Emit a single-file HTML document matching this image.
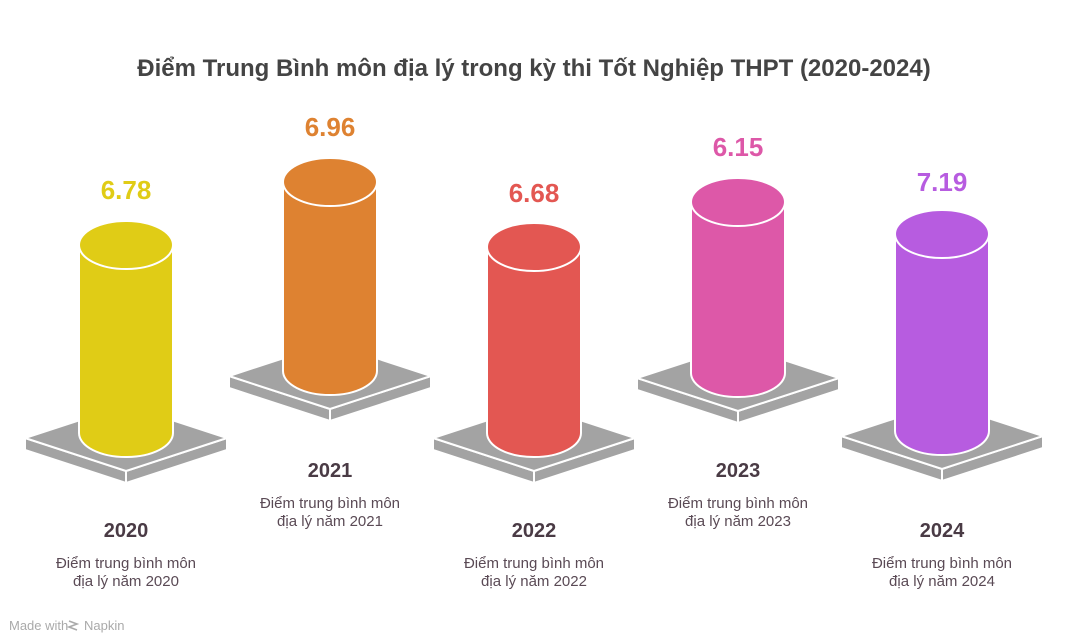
<!DOCTYPE html>
<html><head><meta charset="utf-8"><style>
html,body{margin:0;padding:0;background:#fff;}
body{width:1068px;height:638px;overflow:hidden;font-family:"Liberation Sans","DejaVu Sans",sans-serif;}
</style></head><body>
<svg width="1068" height="638" viewBox="0 0 1068 638" xmlns="http://www.w3.org/2000/svg" font-family="Liberation Sans, DejaVu Sans, sans-serif">
<text x="534" y="76" text-anchor="middle" font-size="24" font-weight="bold" fill="#444">Điểm Trung Bình môn địa lý trong kỳ thi Tốt Nghiệp THPT (2020-2024)</text>
<g id="bars"></g>
<g font-size="13" fill="#aaa"><text x="9" y="630">Made with</text><text x="84" y="630">Napkin</text>
<path d="M69 621 l8 3 -8 3 8 3" stroke="#aaa" stroke-width="1.6" fill="none"/></g>
</svg>
<script>
var d=[[126,245,433,"#E0CC16","6.78","2020",190,530],[330,182,371,"#DE8231","6.96","2021",127,470],[534,247,433,"#E35752","6.68","2022",193,530],[738,202,373,"#DD58A8","6.15","2023",147,470],[942,234,431,"#B75CE0","7.19","2024",182,530]];
var s="";
d.forEach(function(b){
var cx=b[0],ty=b[1],by=b[2],c=b[3],py=by+5,hw=101,hh=33,t=12;
s+='<path d="M'+(cx-hw)+' '+py+' L'+cx+' '+(py+hh)+' L'+cx+' '+(py+hh+t)+' L'+(cx-hw)+' '+(py+t)+'Z" fill="#a3a3a3" stroke="#fff" stroke-width="2"/>';
s+='<path d="M'+(cx+hw)+' '+py+' L'+cx+' '+(py+hh)+' L'+cx+' '+(py+hh+t)+' L'+(cx+hw)+' '+(py+t)+'Z" fill="#a3a3a3" stroke="#fff" stroke-width="2"/>';
s+='<path d="M'+cx+' '+(py-hh)+' L'+(cx+hw)+' '+py+' L'+cx+' '+(py+hh)+' L'+(cx-hw)+' '+py+'Z" fill="#a3a3a3" stroke="#fff" stroke-width="2"/>';
var rx=47,ry=24;
s+='<path d="M'+(cx-rx)+' '+ty+' L'+(cx-rx)+' '+by+' A'+rx+' '+ry+' 0 0 0 '+(cx+rx)+' '+by+' L'+(cx+rx)+' '+ty+'Z" fill="'+c+'" stroke="#fff" stroke-width="2"/>';
s+='<ellipse cx="'+cx+'" cy="'+ty+'" rx="'+rx+'" ry="'+ry+'" fill="'+c+'" stroke="#fff" stroke-width="2"/>';
s+='<text x="'+cx+'" y="'+(b[6]+9)+'" text-anchor="middle" font-size="26" font-weight="bold" fill="'+c+'">'+b[4]+'</text>';
s+='<text x="'+cx+'" y="'+(b[7]+7)+'" text-anchor="middle" font-size="20" font-weight="bold" fill="#4a3b45">'+b[5]+'</text>';
s+='<text x="'+cx+'" y="'+(b[7]+38)+'" text-anchor="middle" font-size="15" fill="#5a4a55">Điểm trung bình môn</text>';
s+='<text x="'+cx+'" y="'+(b[7]+56)+'" text-anchor="middle" font-size="15" fill="#5a4a55">địa lý năm '+b[5]+'</text>';
});
document.getElementById("bars").innerHTML=s;
</script>
</body></html>
